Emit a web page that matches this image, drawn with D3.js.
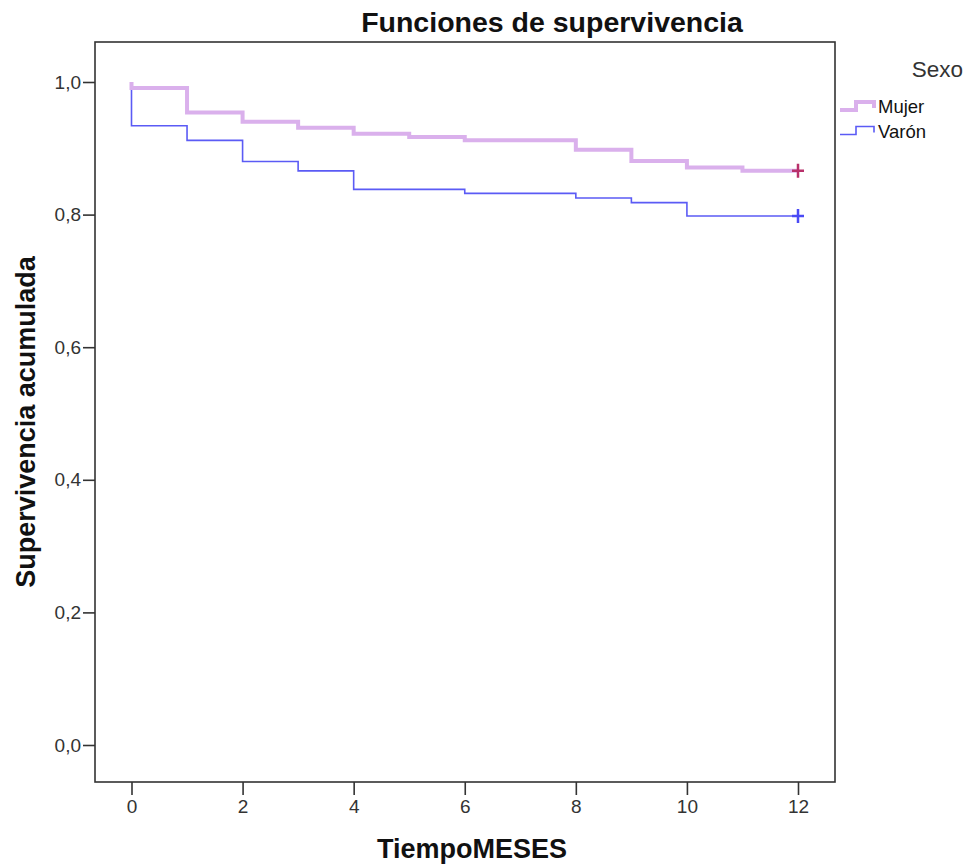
<!DOCTYPE html>
<html>
<head>
<meta charset="utf-8">
<script src="https://cdn.jsdelivr.net/npm/d3@7"></script>
<style>
  html, body { margin: 0; padding: 0; background: #fff; }
  svg { display: block; font-family: "Liberation Sans", Arial, sans-serif; }
</style>
</head>
<body>
<svg id="chart" width="969" height="867"></svg>
<script>
// Kaplan-Meier estimates by sex (time in months)
const mujerTimes  = [0, 1, 2, 3, 4, 5, 6, 8, 9, 10, 11, 12];
const mujerSurv   = [0.991, 0.954, 0.940, 0.931, 0.922, 0.917, 0.912, 0.898, 0.881, 0.871, 0.866, 0.866];
const varonTimes  = [0, 1, 2, 3, 4, 6, 8, 9, 10, 12];
const varonSurv   = [0.934, 0.912, 0.880, 0.866, 0.838, 0.832, 0.825, 0.818, 0.798, 0.798];
const censorTime  = 12;
const xTicks = [0, 2, 4, 6, 8, 10, 12];
const yTicks = [0, 0.2, 0.4, 0.6, 0.8, 1.0];
const groups = ["Mujer", "Varón"];

const svg = d3.select("#chart");
const frame = { left: 95, right: 835, top: 42, bottom: 782 };

const x = d3.scaleLinear().domain([0, 12]).range([131.5, 798]);
const y = d3.scaleLinear().domain([0, 1]).range([745, 82]);

// plot frame
svg.append("rect")
  .attr("x", frame.left).attr("y", frame.top)
  .attr("width", frame.right - frame.left).attr("height", frame.bottom - frame.top)
  .attr("fill", "none").attr("stroke", "#333").attr("stroke-width", 1.6);

// axes
const fmt = d => d3.format(".1f")(d).replace(".", ",");
const yAxis = svg.append("g")
  .attr("transform", `translate(${frame.left},0)`)
  .call(d3.axisLeft(y).tickValues(yTicks).tickFormat(fmt).tickSize(12).tickPadding(2));
const xAxis = svg.append("g")
  .attr("transform", `translate(0,${frame.bottom})`)
  .call(d3.axisBottom(x).tickValues(xTicks).tickFormat(d3.format("d")).tickSize(13).tickPadding(5));
[yAxis, xAxis].forEach(g => {
  g.select(".domain").remove();
  g.selectAll(".tick line").attr("stroke", "#333").attr("stroke-width", 1.6);
  g.selectAll(".tick text").attr("fill", "#333").style("font-size", "19px");
});

// step curves
const line = d3.line().x(d => x(d[0])).y(d => y(d[1])).curve(d3.curveStepAfter);
const mujerPts = [[0, 1.0]].concat(mujerTimes.map((t, i) => [t, mujerSurv[i]]));
const varonPts = [[0, 1.0]].concat(varonTimes.map((t, i) => [t, varonSurv[i]]));

svg.append("path").datum(varonPts)
  .attr("d", line).attr("fill", "none")
  .attr("stroke", "#5b5bf5").attr("stroke-width", 1.6);
svg.append("path").datum(mujerPts)
  .attr("d", line).attr("fill", "none")
  .attr("stroke", "#dab0ec").attr("stroke-width", 4);

// censoring marks
function plus(cx, cy, color) {
  svg.append("path")
    .attr("d", `M${cx - 6},${cy}H${cx + 6}M${cx},${cy - 7}V${cy + 7}`)
    .attr("stroke", color).attr("stroke-width", 2.5).attr("fill", "none");
}
plus(x(censorTime), y(mujerSurv[mujerSurv.length - 1]), "#b8306a");
plus(x(censorTime), y(varonSurv[varonSurv.length - 1]), "#4a4af5");

// title and axis labels
svg.append("text").attr("x", 552).attr("y", 32).attr("text-anchor", "middle")
  .style("font-size", "28.5px").style("font-weight", "bold").attr("fill", "#111")
  .text("Funciones de supervivencia");
svg.append("text").attr("x", 472).attr("y", 858).attr("text-anchor", "middle")
  .style("font-size", "27px").style("font-weight", "bold").attr("fill", "#111")
  .text("TiempoMESES");
svg.append("text").attr("transform", "translate(35,422) rotate(-90)").attr("text-anchor", "middle")
  .style("font-size", "27px").style("font-weight", "bold").attr("fill", "#111")
  .text("Supervivencia acumulada");

// legend
svg.append("text").attr("x", 963).attr("y", 77).attr("text-anchor", "end")
  .style("font-size", "22.5px").attr("fill", "#333").text("Sexo");
const legendStyles = [
  { color: "#dab0ec", width: 4 },
  { color: "#5b5bf5", width: 1.6 }
];
groups.forEach((g, i) => {
  const base = 113 + i * 24.5;
  const s = legendStyles[i];
  svg.append("path")
    .attr("d", `M840,${base - 3}H856V${base - 11}H874V${base - 5}`)
    .attr("fill", "none").attr("stroke", s.color).attr("stroke-width", s.width);
  svg.append("text").attr("x", 878).attr("y", base)
    .style("font-size", "18.5px").attr("fill", "#111").text(g);
});
</script>
</body>
</html>
